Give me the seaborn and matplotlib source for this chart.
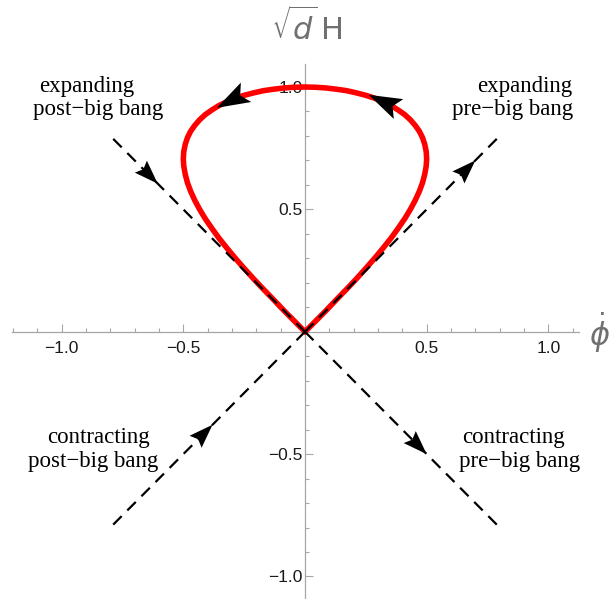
import matplotlib
matplotlib.use("Agg")
import matplotlib.pyplot as plt
import seaborn as sns
import numpy as np
import pandas as pd
from matplotlib.patches import Polygon
from matplotlib.ticker import FixedLocator

# red trajectory: leaves the origin up the right side,
# runs over the top and comes back down the left side
loop_x = [0.000, 0.044, 0.087, 0.129, 0.171, 0.211, 0.250, 0.287, 0.321, 0.354,
          0.383, 0.410, 0.433, 0.453, 0.470, 0.483, 0.492, 0.498, 0.500, 0.498,
          0.492, 0.483, 0.470, 0.453, 0.433, 0.410, 0.383, 0.354, 0.321, 0.287,
          0.250, 0.211, 0.171, 0.129, 0.087, 0.044, 0.000,
          -0.044, -0.087, -0.129, -0.171, -0.211, -0.250, -0.287, -0.321, -0.354,
          -0.383, -0.410, -0.433, -0.453, -0.470, -0.483, -0.492, -0.498, -0.500,
          -0.498, -0.492, -0.483, -0.470, -0.453, -0.433, -0.410, -0.383, -0.354,
          -0.321, -0.287, -0.250, -0.211, -0.171, -0.129, -0.087, -0.044, 0.000]
loop_y = [0.000, 0.044, 0.087, 0.131, 0.174, 0.216, 0.259, 0.301, 0.342, 0.383,
          0.423, 0.462, 0.500, 0.537, 0.574, 0.609, 0.643, 0.676, 0.707, 0.737,
          0.766, 0.793, 0.819, 0.843, 0.866, 0.887, 0.906, 0.924, 0.940, 0.954,
          0.966, 0.976, 0.985, 0.991, 0.996, 0.999, 1.000,
          0.999, 0.996, 0.991, 0.985, 0.976, 0.966, 0.954, 0.940, 0.924,
          0.906, 0.887, 0.866, 0.843, 0.819, 0.793, 0.766, 0.737, 0.707,
          0.676, 0.643, 0.609, 0.574, 0.537, 0.500, 0.462, 0.423, 0.383,
          0.342, 0.301, 0.259, 0.216, 0.174, 0.131, 0.087, 0.044, 0.000]

# dashed rays y = +-x, drawn from the origin outward
ray_x = [-0.8, 0.8, -0.8, 0.8]
ray_y = [0.8, 0.8, -0.8, -0.8]

# arrowheads (a point behind the head -> tip)
dash_tail = [(-0.70, 0.70), (0.62, 0.62), (-0.46, -0.46), (0.42, -0.42)]
dash_tip = [(-0.605, 0.605), (0.70, 0.70), (-0.38, -0.38), (0.50, -0.50)]
loop_tail = [(0.321, 0.940), (-0.294, 0.951)]
loop_tip = [(0.262, 0.968), (-0.362, 0.915)]

# region labels, one entry per text line
label_text = ["expanding", "post\u2212big bang", "expanding", "pre\u2212big bang",
              "contracting", "post\u2212big bang", "contracting", "pre\u2212big bang"]
label_x = [-0.896, -0.851, 0.904, 0.853, -0.847, -0.871, 0.855, 0.880]
label_y = [0.979, 0.885, 0.979, 0.885, -0.455, -0.553, -0.455, -0.553]

major_ticks = [-1.0, -0.5, 0.5, 1.0]
major_labels = ["\u22121.0", "\u22120.5", "0.5", "1.0"]
minor_x = [-1.2, -1.1, -0.9, -0.8, -0.7, -0.6, -0.4, -0.3, -0.2, -0.1,
           0.1, 0.2, 0.3, 0.4, 0.6, 0.7, 0.8, 0.9, 1.1]
minor_y = [-0.9, -0.8, -0.7, -0.6, -0.4, -0.3, -0.2, -0.1,
           0.1, 0.2, 0.3, 0.4, 0.6, 0.7, 0.8, 0.9]

AXIS_GRAY = "#a6a6a6"
LABEL_GRAY = "#707070"


def arrow_head(ax, tail, tip, length, width, notch=0.15, z=6):
    # swept-back arrowhead, sized in pixels, placed in data coords
    to_px = ax.transData
    p_tip = to_px.transform(tip)
    d = p_tip - to_px.transform(tail)
    d = d / np.hypot(*d)
    n = np.array([-d[1], d[0]])
    verts = [p_tip,
             p_tip - length * d + width / 2 * n,
             p_tip - length * (1 - notch) * d,
             p_tip - length * d - width / 2 * n]
    verts = to_px.inverted().transform(np.array(verts))
    ax.add_patch(Polygon(verts, closed=True, facecolor="black",
                         edgecolor="none", zorder=z))


sns.set_style("white")
plt.rcParams["font.family"] = ["Liberation Sans", "DejaVu Sans"]

fig = plt.figure(figsize=(6.11, 5.99), dpi=100)
ax = fig.add_axes([12 / 611, 0, 567 / 611, 535 / 599])
ax.set_xlim(-1.204, 1.126)
ax.set_ylim(-1.092, 1.094)

loop = pd.DataFrame({"x": loop_x, "y": loop_y})
sns.lineplot(data=loop, x="x", y="y", sort=False, estimator=None,
             color="#ff0000", linewidth=4.0, ax=ax, zorder=3)

for ex, ey in zip(ray_x, ray_y):
    ray = pd.DataFrame({"x": [0.0, ex], "y": [0.0, ey]})
    sns.lineplot(data=ray, x="x", y="y", sort=False, estimator=None,
                 color="black", linewidth=1.6, ax=ax, zorder=4)
    ax.lines[-1].set_dashes((5.4, 3.6))

for tail, tip in zip(dash_tail, dash_tip):
    arrow_head(ax, tail, tip, length=24, width=17)
for tail, tip in zip(loop_tail, loop_tip):
    arrow_head(ax, tail, tip, length=33, width=22, notch=0.2)

for t, x, y in zip(label_text, label_x, label_y):
    ax.text(x, y, t, ha="center", va="baseline", fontsize=16.5,
            family="Liberation Serif", color="black")

# Mathematica-style axes through the origin
for side in ["top", "right"]:
    ax.spines[side].set_visible(False)
for side in ["left", "bottom"]:
    ax.spines[side].set_position("zero")
    ax.spines[side].set_color(AXIS_GRAY)
    ax.spines[side].set_linewidth(0.9)

ax.set_xticks(major_ticks)
ax.set_xticklabels(major_labels)
ax.set_yticks(major_ticks)
ax.set_yticklabels(major_labels)
ax.xaxis.set_minor_locator(FixedLocator(minor_x))
ax.yaxis.set_minor_locator(FixedLocator(minor_y))
ax.tick_params(which="both", bottom=True, left=True, direction="in",
               color=AXIS_GRAY, width=0.8, labelsize=12.5, labelcolor="#1a1a1a")
ax.tick_params(which="major", length=5.5)
ax.tick_params(which="minor", length=3)
ax.tick_params(axis="x", which="major", pad=6.5)
ax.tick_params(axis="y", which="major", pad=1.5)
ax.set_xlabel("")
ax.set_ylabel("")

fig.text(600 / 611, 1 - 333 / 599, r"$\dot{\phi}$", ha="center", va="center",
         fontsize=22, color=LABEL_GRAY)
fig.text(307 / 611, 1 - 27 / 599, r"$\sqrt{d}\,\mathrm{H}$", ha="center", va="center",
         fontsize=22, color=LABEL_GRAY)

fig.savefig("out.png", dpi=100)
